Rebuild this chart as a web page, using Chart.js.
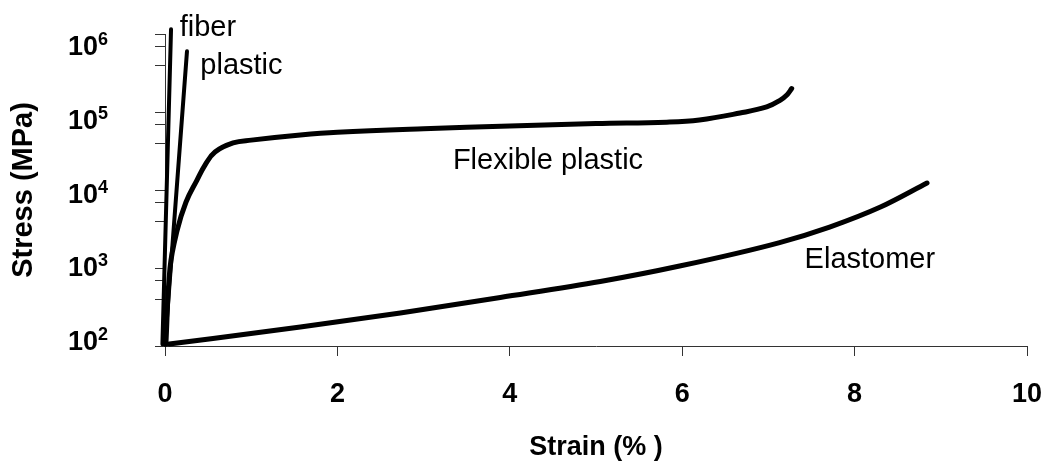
<!DOCTYPE html>
<html>
<head>
<meta charset="utf-8">
<script src="https://cdn.jsdelivr.net/npm/chart.js@4"></script>
<style>
  html, body { margin: 0; padding: 0; background: #fff; }
  #wrap { width: 1045px; height: 466px; position: relative; }
</style>
</head>
<body>
<div id="wrap"><canvas id="stressChart"></canvas></div>
<script>
// Strain (%) and stress (MPa)
const fiberStrain = [-0.03, 0.07];
const fiberStress = [105, 1150000];

const plasticStrain = [0.0, 0.255];
const plasticStress = [105, 600000];

const flexStrain = [0.01, 0.058, 0.139, 0.244, 0.371, 0.464, 0.58, 0.79, 1.0, 1.57, 2, 3, 4, 5, 5.82, 6.2, 6.67, 6.98, 7.13, 7.22, 7.27];
const flexStress = [105, 1000, 2980, 7020, 13400, 20900, 30700, 40100, 43600, 50700, 55000, 61000, 66000, 71000, 74000, 79000, 97000, 116000, 140000, 168000, 200000];

const elastoStrain = [0.05, 1.57, 2.73, 3.89, 5.05, 5.97, 7.13, 7.71, 8.3, 8.84];
const elastoStress = [106, 175, 265, 419, 671, 1060, 2120, 3350, 6050, 12300];

// axis ticks
const strainTicks = [0, 2, 4, 6, 8, 10];
const stressDecades = [100, 1000, 10000, 100000, 1000000];
const minorSteps = [2, 3, 4, 5, 6, 7, 8, 9];
const decadeExponents = ["2", "3", "4", "5", "6"];

const xTitle = "Strain (% )";
const yTitle = "Stress (MPa)";

const curveLabels = [
  { text: "fiber", x: 0.17, y: 940000 },
  { text: "plastic", x: 0.41, y: 307000 },
  { text: "Flexible plastic", x: 3.34, y: 18600 },
  { text: "Elastomer", x: 7.42, y: 1000 }
];

function toPoints(xs, ys) {
  return xs.map((x, i) => ({ x: x, y: ys[i] }));
}

const yTickValues = [];
stressDecades.forEach((d, i) => {
  yTickValues.push(d);
  if (i < stressDecades.length - 1) {
    minorSteps.forEach(m => yTickValues.push(m * d));
  }
});

const FONT = "'Liberation Sans', Arial, sans-serif";
const axisColor = "#333";

// draws the y labels (10 with a raised exponent), axis titles and curve names
const textPlugin = {
  id: "textPlugin",
  afterDraw(chart) {
    const ctx = chart.ctx;
    const xs = chart.scales.x;
    const ys = chart.scales.y;
    const area = chart.chartArea;
    ctx.save();
    ctx.fillStyle = "#000";

    // y tick labels
    stressDecades.forEach((v, i) => {
      const pix = ys.getPixelForValue(v);
      const cy = area.bottom + (pix - area.bottom) * 0.945 - 6;
      ctx.font = "bold 27px " + FONT;
      ctx.textAlign = "right";
      ctx.textBaseline = "alphabetic";
      ctx.fillText("10", 98, cy + 10);
      ctx.font = "bold 18px " + FONT;
      ctx.textAlign = "left";
      ctx.fillText(decadeExponents[i], 98, cy);
    });

    // axis titles
    ctx.font = "bold 27px " + FONT;
    ctx.textAlign = "center";
    ctx.textBaseline = "middle";
    ctx.fillText(xTitle, (area.left + area.right) / 2, 448);

    ctx.save();
    ctx.translate(24, (area.top + area.bottom) / 2);
    ctx.rotate(-Math.PI / 2);
    ctx.font = "bold 29px " + FONT;
    ctx.fillText(yTitle, 0, 0);
    ctx.restore();

    // curve names
    ctx.font = "29px " + FONT;
    ctx.textAlign = "left";
    ctx.textBaseline = "alphabetic";
    curveLabels.forEach(l => {
      ctx.fillText(l.text, xs.getPixelForValue(l.x), ys.getPixelForValue(l.y));
    });
    ctx.restore();
  }
};

function lineSet(label, xs, ys, width, mode) {
  return {
    label: label,
    data: toPoints(xs, ys),
    showLine: true,
    borderColor: "#000",
    backgroundColor: "#000",
    borderWidth: width,
    pointRadius: 0,
    tension: mode ? 0.4 : 0,
    cubicInterpolationMode: mode || "default",
    fill: false,
    clip: false,
    borderCapStyle: "round",
    borderJoinStyle: "round"
  };
}

new Chart("stressChart", {
  type: "scatter",
  data: {
    datasets: [
      lineSet("fiber", fiberStrain, fiberStress, 4, null),
      lineSet("plastic", plasticStrain, plasticStress, 4, null),
      lineSet("Flexible plastic", flexStrain, flexStress, 5, "default"),
      lineSet("Elastomer", elastoStrain, elastoStress, 5, "monotone")
    ]
  },
  options: {
    responsive: true,
    maintainAspectRatio: false,
    animation: false,
    layout: { padding: { left: 0, right: 18, top: 34, bottom: 0 } },
    plugins: {
      legend: { display: false },
      tooltip: { enabled: false }
    },
    scales: {
      x: {
        type: "linear",
        min: 0,
        max: 10,
        afterBuildTicks: (axis) => {
          axis.ticks = strainTicks.map(v => ({ value: v }));
        },
        afterFit: (axis) => {
          axis.height = 120;
          axis.paddingLeft = 0;
          axis.paddingRight = 0;
        },
        ticks: {
          color: "#000",
          padding: 22,
          font: { family: FONT, size: 27, weight: "bold" }
        },
        grid: {
          drawOnChartArea: false,
          tickLength: 10,
          color: axisColor,
          tickColor: axisColor
        },
        border: { display: true, color: axisColor, width: 1 }
      },
      y: {
        type: "logarithmic",
        min: 100,
        max: 1000000,
        afterBuildTicks: (axis) => {
          axis.ticks = yTickValues.map(v => ({ value: v }));
        },
        afterFit: (axis) => {
          axis.width = 165;
          axis.paddingTop = 0;
          axis.paddingBottom = 0;
        },
        ticks: {
          callback: () => ""
        },
        grid: {
          drawOnChartArea: false,
          tickLength: 10,
          color: axisColor,
          tickColor: axisColor
        },
        border: { display: true, color: axisColor, width: 1 }
      }
    }
  },
  plugins: [textPlugin]
});
</script>
</body>
</html>
